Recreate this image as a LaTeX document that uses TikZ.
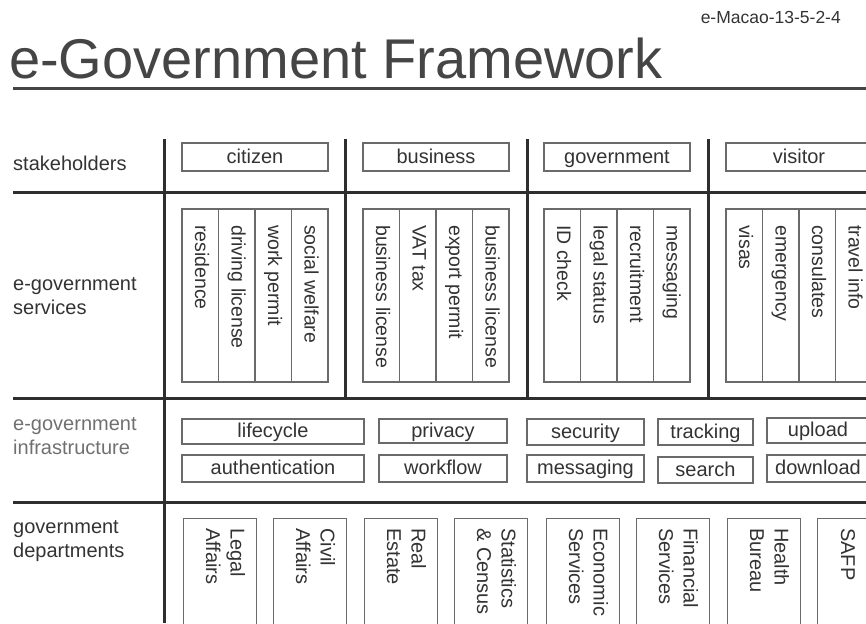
\documentclass[tikz,border=0pt]{standalone}
\usepackage{fontspec}
\setmainfont{Liberation Sans}
\definecolor{gridc}{HTML}{2E2E2E}
\definecolor{boxc}{HTML}{6A6A6A}
\definecolor{txtc}{HTML}{333333}
\definecolor{titlec}{HTML}{454545}
\definecolor{lightc}{HTML}{707070}
\begin{document}
\begin{tikzpicture}[x=1pt,y=-1pt,
  gridline/.style={line width=3pt, draw=gridc},
  sbox/.style={draw=boxc, line width=1.2pt, inner sep=0pt, text=txtc,
    text height=15.5pt, text depth=3.5pt, font=\fontsize{20}{24}\selectfont},
  cellbox/.style={draw=boxc, line width=1.2pt, minimum width=36.5pt, minimum height=173pt, inner sep=0pt},
  deptbox/.style={draw=boxc, line width=1.2pt, minimum width=73pt, minimum height=140pt, inner sep=0pt, anchor=north west},
  vtext/.style={rotate=-90, anchor=west, inner sep=0pt, text=txtc, text height=14.5pt, text depth=4pt,
    font=\fontsize{19.5}{23}\selectfont},
  dtext/.style={rotate=-90, anchor=west, inner sep=0pt, align=left, text=txtc, font=\fontsize{20}{24.5}\selectfont},
  rowlabel/.style={anchor=west, align=left, inner sep=0pt, text=txtc, font=\fontsize{20}{24}\selectfont},
]
\useasboundingbox (0,0) rectangle (866,623);
\clip (0,0) rectangle (866,623);

% title
\node[anchor=base west, inner sep=0pt, text=titlec, font=\fontsize{56}{60}\selectfont] (title) at (9,79) {e-Government Framework};
\draw[line width=3pt, titlec] (13,89) -- (866,89);
\node[anchor=base east, inner sep=0pt, text=txtc, font=\fontsize{17.5}{20}\selectfont] (code) at (841,24) {e-Macao-13-5-2-4};

% grid
\draw[gridline] (13,192) -- (866,192);
\draw[gridline] (13,398) -- (866,398);
\draw[gridline] (13,502) -- (866,502);
\draw[gridline] (164,139) -- (164,623);
\foreach \x in {345,527,708} \draw[gridline] (\x,139) -- (\x,398);

% row labels
\node[rowlabel] (lstake) at (13,163) {stakeholders};
\node[rowlabel] (lserv) at (13,296) {e-government\\services};
\node[rowlabel, text=lightc] (linfra) at (13,436) {e-government\\infrastructure};
\node[rowlabel] (ldept) at (13,541) {government\\departments};

% stakeholders
\node[sbox, minimum width=146pt, minimum height=28pt] (citizen) at (255,157) {citizen};
\node[sbox, minimum width=146pt, minimum height=28pt] (business) at (436,157) {business};
\node[sbox, minimum width=146pt, minimum height=28pt] (government) at (617,157) {government};
\node[sbox, minimum width=146pt, minimum height=28pt] (visitor) at (799,157) {visitor};

% services
\foreach \gx/\gn/\la/\lb/\lc/\ld in {
  182/cit/residence/driving license/work permit/social welfare,
  363/bus/business license/VAT tax/export permit/business license,
  544/gov/ID check/legal status/recruitment/messaging,
  726/vis/visas/emergency/consulates/travel info}{
  \foreach \t [count=\k] in {\la,\lb,\lc,\ld}{
    \node[cellbox] (\gn\k) at ({\gx+(\k-0.5)*36.5}, 295.5) {};
    \node[vtext] (\gn-t\k) at ({\gx+(\k-0.5)*36.5}, 225) {\t};
  }
}

% infrastructure
\node[sbox, minimum width=182pt, minimum height=25pt] (lifecycle) at (273,431.5) {lifecycle};
\node[sbox, minimum width=182pt, minimum height=27pt] (authentication) at (273,468.5) {authentication};
\node[sbox, minimum width=128pt, minimum height=24pt] (privacy) at (443,431) {privacy};
\node[sbox, minimum width=128pt, minimum height=27pt] (workflow) at (443,468.5) {workflow};
\node[sbox, minimum width=117pt, minimum height=26pt] (security) at (585.5,432) {security};
\node[sbox, minimum width=117pt, minimum height=27pt] (messaging) at (585.5,468.5) {messaging};
\node[sbox, minimum width=95pt, minimum height=26pt] (tracking) at (705.5,432) {tracking};
\node[sbox, minimum width=95pt, minimum height=26pt] (search) at (705.5,470) {search};
\node[sbox, minimum width=102pt, minimum height=25pt] (upload) at (818,430.5) {upload};
\node[sbox, minimum width=102pt, minimum height=27pt] (download) at (818,468.5) {download};

% departments
\node[deptbox] (legal) at (183,518) {};
\node[dtext] (legal-t) at (225.5,528) {Legal\\Affairs};
\node[deptbox] (civil) at (273,518) {};
\node[dtext] (civil-t) at (315.5,528) {Civil\\Affairs};
\node[deptbox] (estate) at (364,518) {};
\node[dtext] (estate-t) at (406.5,528) {Real\\Estate};
\node[deptbox] (stats) at (454,518) {};
\node[dtext] (stats-t) at (496.5,528) {Statistics\\\& Census};
\node[deptbox] (econ) at (546,518) {};
\node[dtext] (econ-t) at (588.5,528) {Economic\\Services};
\node[deptbox] (fin) at (636,518) {};
\node[dtext] (fin-t) at (678.5,528) {Financial\\Services};
\node[deptbox] (health) at (727,518) {};
\node[dtext] (health-t) at (769.5,528) {Health\\Bureau};
\node[deptbox] (safp) at (817,518) {};
\node[dtext] (safp-t) at (848,528) {SAFP};
\end{tikzpicture}
\end{document}
